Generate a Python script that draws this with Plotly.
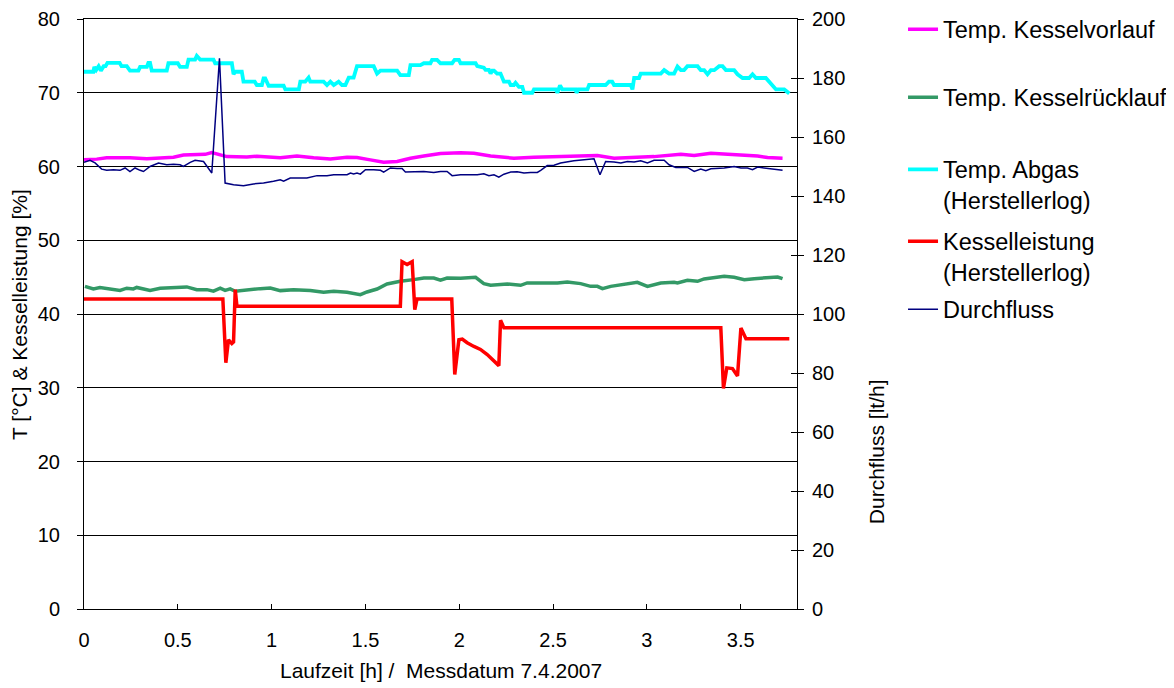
import plotly.graph_objects as go

# ---------------- data ----------------
vorlauf_x = [0.000, 0.068, 0.121, 0.245, 0.335, 0.406, 0.477, 0.530, 0.601, 0.646, 0.681, 0.726,
             0.761, 0.868, 0.921, 1.046, 1.135, 1.224, 1.313, 1.402, 1.455, 1.526, 1.597, 1.669,
             1.740, 1.811, 1.900, 2.007, 2.078, 2.167, 2.291, 2.398, 2.523, 2.647, 2.736, 2.825,
             2.932, 3.038, 3.181, 3.252, 3.341, 3.430, 3.501, 3.590, 3.643, 3.723]
vorlauf_y = [60.9, 61.0, 61.2, 61.2, 61.05, 61.2, 61.25, 61.55, 61.65, 61.65, 61.9, 61.57,
             61.34, 61.3, 61.39, 61.2, 61.43, 61.2, 61.03, 61.25, 61.21, 60.9, 60.58, 60.67,
             61.12, 61.43, 61.75, 61.88, 61.79, 61.43, 61.12, 61.25, 61.34, 61.48, 61.48, 61.12,
             61.25, 61.34, 61.66, 61.48, 61.79, 61.66, 61.57, 61.43, 61.21, 61.12]

ruecklauf_x = [0.005, 0.050, 0.085, 0.157, 0.192, 0.228, 0.263, 0.281, 0.352, 0.406, 0.477, 0.548,
               0.601, 0.655, 0.690, 0.726, 0.752, 0.779, 0.806, 0.868, 0.939, 0.993, 1.046, 1.117,
               1.206, 1.277, 1.331, 1.402, 1.473, 1.508, 1.562, 1.615, 1.686, 1.757, 1.811, 1.864,
               1.900, 1.935, 2.007, 2.087, 2.131, 2.167, 2.256, 2.327, 2.362, 2.523, 2.576, 2.647,
               2.700, 2.736, 2.763, 2.807, 2.896, 2.949, 3.003, 3.074, 3.145, 3.163, 3.216, 3.270,
               3.305, 3.412, 3.465, 3.519, 3.572, 3.643, 3.697, 3.723]
ruecklauf_y = [43.75, 43.4, 43.6, 43.4, 43.2, 43.5, 43.4, 43.6, 43.2, 43.5, 43.6, 43.67,
               43.3, 43.3, 43.1, 43.5, 43.2, 43.4, 43.08, 43.3, 43.44, 43.53, 43.17, 43.3,
               43.2, 42.94, 43.08, 42.94, 42.63, 42.99, 43.39, 44.07, 44.43, 44.66, 44.88, 44.88,
               44.6, 44.88, 44.84, 44.97, 44.12, 43.89, 44.07, 43.89, 44.21, 44.21, 44.34, 44.12,
               43.75, 43.75, 43.44, 43.75, 44.07, 44.3, 43.75, 44.21, 44.3, 44.21, 44.57, 44.43,
               44.75, 45.11, 44.97, 44.66, 44.79, 44.88, 45.02, 44.79]

abgas_x = [0.000, 0.050, 0.055, 0.065, 0.078, 0.090, 0.105, 0.115, 0.125, 0.190, 0.200, 0.228,
           0.245, 0.290, 0.299, 0.335, 0.343, 0.352, 0.361, 0.441, 0.450, 0.500, 0.512, 0.548,
           0.557, 0.592, 0.601, 0.619, 0.690, 0.699, 0.788, 0.797, 0.806, 0.841, 0.850, 0.910,
           0.921, 0.948, 0.957, 0.966, 0.984, 1.064, 1.073, 1.145, 1.153, 1.179, 1.197, 1.206,
           1.277, 1.295, 1.313, 1.331, 1.357, 1.375, 1.393, 1.411, 1.437, 1.455, 1.544, 1.562,
           1.580, 1.669, 1.686, 1.731, 1.740, 1.793, 1.811, 1.846, 1.855, 1.882, 1.900, 1.962,
           1.975, 1.998, 2.007, 2.087, 2.096, 2.131, 2.140, 2.158, 2.167, 2.176, 2.185, 2.202,
           2.220, 2.238, 2.265, 2.274, 2.291, 2.300, 2.318, 2.336, 2.345, 2.389, 2.398, 2.514,
           2.523, 2.537, 2.549, 2.620, 2.625, 2.635, 2.683, 2.692, 2.780, 2.798, 2.815, 2.825,
           2.914, 2.923, 2.932, 2.958, 2.967, 3.074, 3.092, 3.118, 3.145, 3.163, 3.181, 3.198,
           3.216, 3.270, 3.287, 3.305, 3.323, 3.341, 3.359, 3.385, 3.403, 3.421, 3.465, 3.483,
           3.510, 3.545, 3.563, 3.581, 3.634, 3.652, 3.670, 3.688, 3.732, 3.759]
abgas_y = [72.85, 72.85, 73.5, 73.1, 73.6, 73.0, 73.6, 73.6, 74.05, 74.05, 73.6, 73.6,
           73.0, 73.0, 73.5, 73.5, 74.05, 74.05, 73.0, 73.0, 74.0, 74.0, 73.5, 73.5,
           74.5, 74.5, 75.0, 74.5, 74.5, 74.0, 74.0, 72.5, 72.85, 72.85, 71.5, 71.5,
           71.05, 71.05, 71.95, 71.95, 70.95, 70.95, 70.45, 70.45, 71.5, 71.5, 72.05, 71.5,
           71.5, 71.05, 71.5, 71.05, 71.5, 71.05, 71.05, 72.05, 72.05, 73.6, 73.6, 72.6,
           73.0, 73.0, 72.4, 72.4, 73.75, 73.75, 74.0, 74.0, 74.45, 74.45, 74.0, 74.0,
           74.45, 74.45, 74.0, 74.0, 73.6, 73.4, 73.1, 73.1, 72.6, 73.0, 73.0, 72.6,
           72.6, 71.5, 71.5, 71.05, 71.05, 71.35, 70.8, 70.8, 70.0, 70.0, 70.45, 70.45,
           70.0, 71.0, 70.45, 70.45, 70.0, 70.45, 70.45, 71.05, 71.05, 71.5, 71.5, 71.05,
           71.05, 70.45, 72.0, 72.0, 72.6, 72.6, 73.07, 72.6, 72.6, 73.55, 73.07, 73.07,
           73.6, 73.6, 73.07, 73.07, 72.5, 73.07, 73.07, 73.6, 73.6, 73.07, 73.07, 72.5,
           72.0, 72.0, 72.5, 72.0, 72.0, 71.5, 71.05, 70.45, 70.45, 69.9]

leistung_x = [0.000, 0.740, 0.756, 0.770, 0.788, 0.797, 0.806, 0.815, 0.833, 1.686, 1.695, 1.722,
              1.749, 1.763, 1.775, 1.960, 1.976, 1.998, 2.016, 2.042, 2.078, 2.113, 2.149, 2.185,
              2.211, 2.220, 2.238, 3.394, 3.408, 3.426, 3.456, 3.483, 3.501, 3.528, 3.759]
leistung_y = [42.04, 42.04, 33.4, 36.5, 36.0, 36.2, 43.3, 41.05, 41.05, 41.05, 47.1, 46.7,
              47.1, 40.6, 42.04, 42.04, 31.8, 36.5, 36.6, 36.1, 35.6, 35.2, 34.5, 33.6,
              33.0, 39.15, 38.12, 38.12, 29.9, 32.7, 32.6, 31.6, 38.1, 36.63, 36.63]

durchfluss_x = [0.000, 0.032, 0.059, 0.094, 0.121, 0.157, 0.192, 0.219, 0.245, 0.272, 0.299, 0.317,
                0.352, 0.397, 0.441, 0.477, 0.512, 0.530, 0.566, 0.592, 0.637, 0.681, 0.722, 0.752,
                0.797, 0.850, 0.903, 0.957, 1.010, 1.046, 1.064, 1.099, 1.188, 1.242, 1.295, 1.331,
                1.402, 1.420, 1.437, 1.455, 1.473, 1.500, 1.544, 1.580, 1.597, 1.633, 1.669, 1.695,
                1.713, 1.757, 1.811, 1.864, 1.900, 1.935, 1.962, 2.007, 2.060, 2.096, 2.131, 2.158,
                2.185, 2.211, 2.238, 2.274, 2.309, 2.345, 2.380, 2.416, 2.434, 2.469, 2.505, 2.540,
                2.611, 2.683, 2.718, 2.750, 2.780, 2.825, 2.861, 2.896, 2.932, 2.967, 3.003, 3.038,
                3.092, 3.118, 3.154, 3.216, 3.252, 3.287, 3.314, 3.341, 3.412, 3.465, 3.501, 3.536,
                3.563, 3.590, 3.625, 3.679, 3.723]
durchfluss_y = [151.4, 152.1, 151.2, 149.1, 148.7, 148.9, 148.7, 149.5, 148.3, 149.5, 148.7, 148.3,
                150.0, 151.2, 150.6, 150.8, 150.6, 150.0, 151.4, 152.1, 151.7, 147.8, 186.7, 144.4,
                143.8, 143.5, 144.1, 144.4, 145.0, 145.5, 145.0, 146.1, 146.1, 146.9, 146.9, 147.2,
                147.2, 147.8, 147.5, 147.8, 147.4, 148.9, 148.9, 148.7, 148.1, 149.5, 149.3, 149.3,
                148.1, 148.1, 148.3, 148.0, 148.3, 148.3, 146.9, 147.2, 147.1, 147.2, 147.55, 146.9,
                147.2, 146.4, 147.4, 148.1, 148.2, 147.8, 148.0, 148.0, 148.7, 150.3, 150.4, 151.2,
                151.95, 152.5, 152.6, 147.2, 151.7, 151.5, 151.2, 151.7, 151.5, 151.95, 151.2, 152.1,
                152.1, 150.6, 149.7, 149.7, 148.3, 149.1, 148.6, 149.25, 149.5, 150.0, 149.5, 149.5,
                148.9, 149.8, 149.5, 148.9, 148.7]

names = ["Temp. Kesselvorlauf", "Temp. Kesselrücklauf", "Temp. Abgas<br>(Herstellerlog)",
         "Kesselleistung<br>(Herstellerlog)", "Durchfluss"]
colors = ["#FF00FF", "#339966", "#00FFFF", "#FF0000", "#000080"]

x_ticks = [0, 0.5, 1, 1.5, 2, 2.5, 3, 3.5]
x_title = "Laufzeit [h] /  Messdatum 7.4.2007"
y_title = "T [°C] & Kesselleistung [%]"
y2_title = "Durchfluss [lt/h]"

FONT = "Liberation Sans, Arial, sans-serif"

# ---------------- figure ----------------
fig = go.Figure()
series = [(vorlauf_x, vorlauf_y, "y", 3.5), (ruecklauf_x, ruecklauf_y, "y", 3.5),
          (abgas_x, abgas_y, "y", 3.8), (leistung_x, leistung_y, "y", 3.5),
          (durchfluss_x, durchfluss_y, "y2", 1.5)]
legend_ids = ["legend", "legend2", "legend3", "legend4", "legend5"]
for i, (xs, ys, ax, w) in enumerate(series):
    fig.add_trace(go.Scatter(x=xs, y=ys, mode="lines", name=names[i], yaxis=ax,
                             line=dict(color=colors[i], width=w),
                             legend=legend_ids[i]))
# invisible helper for inside ticks on right axis
fig.add_trace(go.Scatter(x=[0], y=[0], yaxis="y3", mode="markers",
                         marker=dict(opacity=0), showlegend=False, hoverinfo="skip"))

axis_font = dict(family=FONT, size=20, color="black")
# the page body adds an 8 px offset, so margins are compensated
fig.update_layout(
    width=1174, height=688,
    margin=dict(l=76, r=385, t=11, b=87, autoexpand=False),
    paper_bgcolor="white", plot_bgcolor="white",
    font=dict(family=FONT, size=20, color="black"),
    showlegend=True,
    xaxis=dict(range=[0, 3.8], tickvals=x_ticks, ticks="inside", ticklen=5,
               tickcolor="black", showline=True, linecolor="black", linewidth=1,
               mirror=True, showgrid=False, zeroline=False, tickfont=axis_font,
               ticklabelstandoff=13),
    yaxis=dict(range=[0, 80], dtick=10, ticks="outside", ticklen=6, tickcolor="black",
               showline=True, linecolor="black", linewidth=1, showgrid=True,
               gridcolor="black", gridwidth=1, zeroline=False, tickfont=axis_font,
               ticklabelstandoff=13),
    yaxis2=dict(range=[0, 200], dtick=20, ticks="outside", ticklen=6, tickcolor="black",
                overlaying="y", side="right", anchor="x", showline=True, linecolor="black",
                linewidth=1, showgrid=False, zeroline=False, tickfont=axis_font,
                ticklabelstandoff=4),
    yaxis3=dict(range=[0, 200], dtick=20, ticks="inside", ticklen=6, tickcolor="black",
                overlaying="y", side="right", anchor="x", showline=False,
                showgrid=False, zeroline=False, showticklabels=False),
    annotations=[
        dict(text=x_title, xref="paper", yref="paper", x=0.5, y=-0.104,
             xanchor="center", yanchor="middle", showarrow=False,
             font=dict(family=FONT, size=21, color="black")),
        dict(text=y_title, xref="paper", yref="paper", x=-0.0912, y=0.5,
             xanchor="center", yanchor="middle", showarrow=False, textangle=-90,
             font=dict(family=FONT, size=21, color="black")),
        dict(text=y2_title, xref="paper", yref="paper", x=1.111, y=0.266,
             xanchor="center", yanchor="middle", showarrow=False, textangle=-90,
             font=dict(family=FONT, size=21, color="black")),
    ],
)

legend_tops = [7.5, 75.5, 147.5, 219.5, 287.5]
for lid, top in zip(legend_ids, legend_tops):
    fig.update_layout({lid: dict(x=1.1487, y=(609 - top) / 590, xanchor="left", yanchor="top",
                                 bgcolor="rgba(0,0,0,0)", borderwidth=0, valign="top",
                                 font=dict(family=FONT, size=23.5, color="black"))})

fig.write_html("out.html")
